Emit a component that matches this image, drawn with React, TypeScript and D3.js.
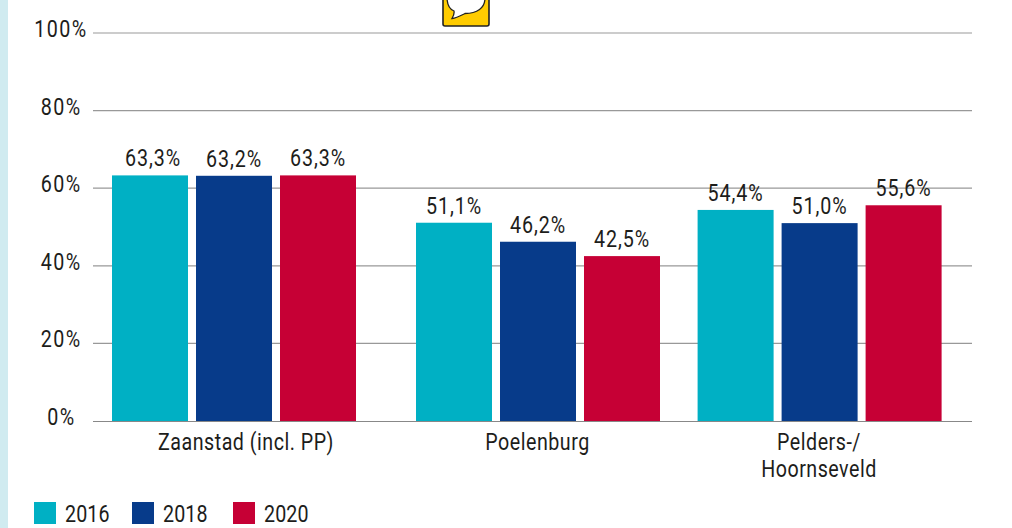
import React from "react";
import * as d3 from "d3";

const categories = ["Zaanstad (incl. PP)", "Poelenburg", "Pelders-/\nHoornseveld"];
const years = ["2016", "2018", "2020"];
const values2016 = [63.3, 51.1, 54.4];
const values2018 = [63.2, 46.2, 51.0];
const values2020 = [63.3, 42.5, 55.6];
const series = [values2016, values2018, values2020];
const colors = ["#00b0c4", "#073b8a", "#c60035"];
const yTicks = [0, 20, 40, 60, 80, 100];
const groupStarts = [112, 416, 697.6];
const categoryCentres = [246, 537.5, 819];

const FONT = "Roboto, sans-serif";
const INK = "#1d1d1b";
const SQUEEZE = 0.82;

function Label({ x, y, anchor = "middle", size = 24, spacing = 0.6, children }: any) {
  return (
    <text
      transform={`translate(${x},${y}) scale(${SQUEEZE},1)`}
      textAnchor={anchor}
      fontSize={size}
      fill={INK}
      letterSpacing={spacing}
    >
      {children}
    </text>
  );
}

export default function App() {
  const y = d3.scaleLinear().domain([0, 100]).range([421, 33]);
  const groupX = d3.scaleOrdinal<string, number>().domain(categories).range(groupStarts);
  const inner = d3.scaleBand<string>().domain(years).range([0, 244]).paddingInner(8 / 84);
  const fmt = (v: number) => v.toFixed(1).replace(".", ",") + "%";
  const legendX = d3.scaleOrdinal<string, number>().domain(years).range([34, 132, 233]);

  return (
    <svg width={1012} height={528} style={{ position: "absolute", left: 0, top: 0, background: "#fff" }} fontFamily={FONT}>
      <rect x={0} y={0} width={8} height={528} fill="#d0ebf0" />
      <g>
        <rect x={443} y={-20} width={46} height={46} rx={2} fill="#ffcc00" stroke="#222" strokeWidth={1.6} />
        <path d="M447,-3 C447,4 449,9 454,11 C454.5,14 453,17 452,18.5 C457,18 461,15.5 465,13.5 C477,13.5 485,8 485,-2 C485,-8 480,-14 466,-14 C452,-14 447,-9 447,-3 Z" fill="#fff" stroke="#222" strokeWidth={1.3} />
      </g>
      {yTicks.map((t) => (
        <g key={t}>
          {t !== 0 && <line x1={93} x2={972} y1={y(t)} y2={y(t)} stroke="#999" strokeWidth={1.2} />}
          <Label x={t === 100 ? 87.5 : t === 0 ? 75.5 : 81.5} y={y(t) + 4} anchor="end" spacing={1.7}>{t}%</Label>
        </g>
      ))}
      {categories.map((c, i) =>
        years.map((yr, j) => {
          const v = series[j][i];
          const x = groupX(c)! + inner(yr)!;
          const dx = i === 0 && j === 0 ? 3 : 0;
          return (
            <g key={c + yr}>
              <rect x={x} y={y(v)} width={inner.bandwidth()} height={421 - y(v)} fill={colors[j]} />
              <Label x={x + inner.bandwidth() / 2 + dx} y={y(v) - 9} spacing={1.1}>{fmt(v)}</Label>
            </g>
          );
        })
      )}
      <line x1={93} x2={972} y1={421.5} y2={421.5} stroke="#888" strokeWidth={1.2} />
      {categories.map((c, i) =>
        c.split("\n").map((line, k) => (
          <Label key={line} x={categoryCentres[i]} y={450 + k * 27}>{line}</Label>
        ))
      )}
      {years.map((yr, j) => (
        <g key={yr}>
          <rect x={legendX(yr)} y={502} width={22} height={22} fill={colors[j]} />
          <Label x={legendX(yr)! + 31} y={522} anchor="start" spacing={0.1}>{yr}</Label>
        </g>
      ))}
    </svg>
  );
}
